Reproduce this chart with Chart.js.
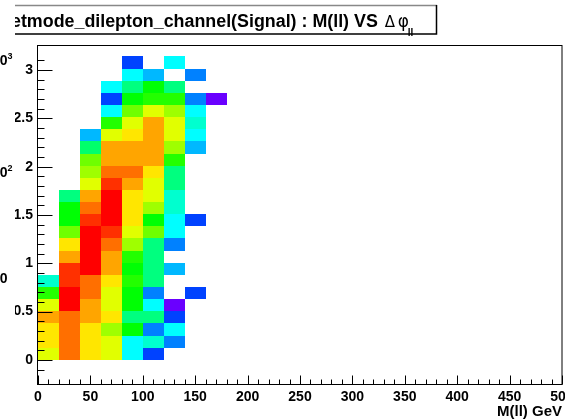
<!DOCTYPE html>
<html>
<head>
<meta charset="utf-8">
<script src="https://cdn.jsdelivr.net/npm/chart.js@4.4.0/dist/chart.umd.min.js"></script>
<style>
  html, body { margin: 0; padding: 0; background: #fff; }
  canvas { display: block; }
</style>
</head>
<body>
<canvas id="c" width="565" height="419"></canvas>
<script>
// M(ll) bins, 20 GeV wide (centres)
const massCentres = [10, 30, 50, 70, 90, 110, 130, 150, 170];
const massBinWidth = 20;
// delta phi: 25 bins from 0 to pi
const dphiBinWidth = Math.PI / 25;

// entries per M(ll) bin, one value per delta phi bin from bottom to top (0 = empty)
const m0to20    = [88, 118, 118, 166, 88, 32, 8.8, 0, 0, 0, 0, 0, 0, 0, 0, 0, 0, 0, 0, 0, 0, 0, 0, 0, 0];
const m20to40   = [222, 222, 222, 222, 400, 400, 310, 310, 166, 118, 48, 26, 26, 13.5, 0, 0, 0, 0, 0, 0, 0, 0, 0, 0, 0];
const m40to60   = [118, 118, 118, 166, 166, 222, 222, 400, 400, 400, 400, 310, 222, 166, 88, 62, 48, 15, 4.7, 0, 0, 0, 0, 0, 0];
const m60to80   = [88, 88, 62, 118, 88, 88, 118, 166, 166, 222, 310, 400, 400, 400, 310, 222, 166, 166, 88, 32, 6.8, 2.5, 6.8, 0, 0];
const m80to100  = [6.8, 6.8, 26, 13.5, 26, 26, 32, 26, 32, 62, 88, 118, 118, 118, 166, 222, 166, 166, 118, 88, 48, 26, 13.5, 6.8, 2.5];
const m100to120 = [2.5, 8.8, 3.5, 13.5, 6.8, 3.5, 13.5, 13.5, 13.5, 13.5, 48, 26, 62, 88, 88, 118, 166, 166, 166, 166, 88, 32, 26, 4.7, 0];
const m120to140 = [0, 3.5, 6.8, 2.5, 1, 0, 0, 4.7, 0, 3.5, 6.8, 6.8, 8.8, 8.8, 13.5, 13.5, 32, 62, 88, 88, 62, 32, 13.5, 0, 6.8];
const m140to160 = [0, 0, 0, 0, 0, 2.5, 0, 0, 0, 0, 0, 2.5, 0, 0, 0, 0, 0, 4.7, 6.8, 8.8, 6.8, 3.5, 0, 3.5, 0];
const m160to180 = [0, 0, 0, 0, 0, 0, 0, 0, 0, 0, 0, 0, 0, 0, 0, 0, 0, 0, 0, 0, 0, 1, 0, 0, 0];
const massColumns = [m0to20, m20to40, m40to60, m60to80, m80to100, m100to120, m120to140, m140to160, m160to180];

// z axis (log) range and its labels
const zMin = 1;
const zMax = 400;
const zLabelExponents = ['3', '2', ''];

const titleText = 'etmode_dilepton_channel(Signal) : M(ll) VS';
const xTitle = 'M(ll) GeV';

const FONT = '"Liberation Sans", Arial, Helvetica, sans-serif';

function paletteColour(v) {
    let t = Math.log(v / zMin) / Math.log(zMax / zMin);
    t = Math.max(0, Math.min(1, t));
    const hue = 265 * (1 - t);
    return 'hsl(' + hue.toFixed(1) + ',100%,50%)';
}

let cells = [];
massColumns.forEach((col, i) => {
    col.forEach((v, j) => {
        if (v > 0) cells.push({ x: massCentres[i], y: (j + 0.5) * dphiBinWidth, v: v });
    });
});

function isTenth(v) {
    return Math.abs(v * 10 - Math.round(v * 10)) < 1e-6;
}

const heatCells = {
    id: 'heatCells',
    beforeDatasetsDraw(chart) {
        const { ctx, chartArea, scales: { x, y } } = chart;
        ctx.save();
        ctx.beginPath();
        ctx.rect(chartArea.left, chartArea.top, chartArea.width, chartArea.height);
        ctx.clip();
        chart.data.datasets[0].data.forEach(p => {
            const x0 = Math.round(x.getPixelForValue(p.x - massBinWidth / 2));
            const x1 = Math.round(x.getPixelForValue(p.x + massBinWidth / 2));
            const y0 = Math.round(y.getPixelForValue(p.y - dphiBinWidth / 2));
            const y1 = Math.round(y.getPixelForValue(p.y + dphiBinWidth / 2));
            ctx.fillStyle = paletteColour(p.v);
            ctx.fillRect(x0, y1, x1 - x0, y0 - y1);
        });
        ctx.restore();
    }
};

const frameAndTicks = {
    id: 'frameAndTicks',
    afterDatasetsDraw(chart) {
        const { ctx, chartArea, scales: { x, y } } = chart;
        const left = Math.round(chartArea.left) - 0.5;
        const bottom = Math.round(chartArea.bottom) + 0.5;
        ctx.save();
        ctx.strokeStyle = '#000';
        ctx.lineWidth = 1;
        ctx.strokeRect(left, Math.round(chartArea.top) + 0.5, Math.round(chartArea.right) - left, bottom - Math.round(chartArea.top) - 0.5);
        ctx.beginPath();
        y.ticks.forEach(t => {
            if (!isTenth(t.value)) return;
            const major = Math.round(t.value * 10) % 5 === 0;
            const py = Math.round(y.getPixelForValue(t.value)) + 0.5;
            ctx.moveTo(left, py);
            ctx.lineTo(left + (major ? 15 : 7), py);
        });
        x.ticks.forEach(t => {
            const major = Math.round(t.value) % 50 === 0;
            const px = Math.round(x.getPixelForValue(t.value)) + 0.5;
            ctx.moveTo(px, bottom);
            ctx.lineTo(px, bottom - (major ? 9 : 5));
        });
        ctx.stroke();
        ctx.restore();
    },
    afterDraw(chart) {
        const ctx = chart.ctx;
        ctx.save();
        // title box
        ctx.fillStyle = '#fff';
        ctx.fillRect(0, 5, 437, 29);
        ctx.strokeStyle = '#888';
        ctx.lineWidth = 1.5;
        ctx.beginPath();
        ctx.moveTo(0, 5.5); ctx.lineTo(437, 5.5);
        ctx.stroke();
        ctx.strokeStyle = '#000';
        ctx.beginPath();
        ctx.moveTo(436.5, 5); ctx.lineTo(436.5, 34); ctx.lineTo(0, 34);
        ctx.stroke();

        let size = 17;
        ctx.font = 'bold ' + size + 'px ' + FONT;
        size = size * 367 / ctx.measureText(titleText).width;
        ctx.font = 'bold ' + size.toFixed(2) + 'px ' + FONT;
        ctx.fillStyle = '#000';
        ctx.textAlign = 'left';
        ctx.textBaseline = 'alphabetic';
        ctx.fillText(titleText, 11, 27);
        const end = 11 + ctx.measureText(titleText).width;
        ctx.font = '15px "DejaVu Sans", ' + FONT;
        ctx.fillText('\u0394', end + 7, 27);
        ctx.font = '17px "DejaVu Sans", ' + FONT;
        ctx.fillText('\u03c6', end + 20, 27);
        ctx.font = 'bold 10px ' + FONT;
        ctx.fillText('ll', end + 30, 36);

        // left strip (cut-off palette labels)
        ctx.fillStyle = '#fff';
        ctx.fillRect(0, 0, 15, 419);
        ctx.fillStyle = '#000';
        const labelBase = [65, 177, 283];
        zLabelExponents.forEach((e, i) => {
            ctx.font = 'bold 14px ' + FONT;
            ctx.textAlign = 'right';
            ctx.fillText('10', 7.5, labelBase[i]);
            if (e) {
                ctx.font = 'bold 9px ' + FONT;
                ctx.textAlign = 'left';
                ctx.fillText(e, 7.5, labelBase[i] - 6);
            }
        });

        // x axis title
        ctx.font = 'bold 15px ' + FONT;
        ctx.textAlign = 'right';
        ctx.fillText(xTitle, 562, 416);
        ctx.restore();
    }
};

new Chart(document.getElementById('c'), {
    type: 'scatter',
    data: {
        datasets: [{
            data: cells,
            pointRadius: 0,
            pointHoverRadius: 0
        }]
    },
    options: {
        responsive: false,
        animation: false,
        events: [],
        layout: { padding: { top: 45, right: 3, left: 0, bottom: 0 } },
        plugins: { legend: { display: false }, tooltip: { enabled: false } },
        scales: {
            x: {
                type: 'linear',
                min: 0,
                max: 500,
                grid: { display: false, drawTicks: false },
                border: { display: false },
                ticks: {
                    stepSize: 10,
                    autoSkip: false,
                    maxRotation: 0,
                    padding: 5,
                    color: '#000',
                    font: { family: FONT, size: 14, weight: 'bold' },
                    callback: v => (Math.round(v) % 50 === 0 ? String(Math.round(v)) : '')
                },
                afterFit: s => { s.height = 35; s.paddingLeft = 0; s.paddingRight = 0; }
            },
            y: {
                type: 'linear',
                min: -0.25,
                max: 3.26,
                grid: { display: false, drawTicks: false },
                border: { display: false },
                ticks: {
                    stepSize: 0.1,
                    autoSkip: false,
                    padding: 5,
                    color: '#000',
                    font: { family: FONT, size: 14, weight: 'bold' },
                    callback: v => {
                        if (!isTenth(v)) return '';
                        const k = Math.round(v * 10);
                        return k % 5 === 0 ? String(k / 10) : '';
                    }
                },
                afterFit: s => { s.width = 38; s.paddingTop = 0; s.paddingBottom = 0; }
            }
        }
    },
    plugins: [heatCells, frameAndTicks]
});
</script>
</body>
</html>
